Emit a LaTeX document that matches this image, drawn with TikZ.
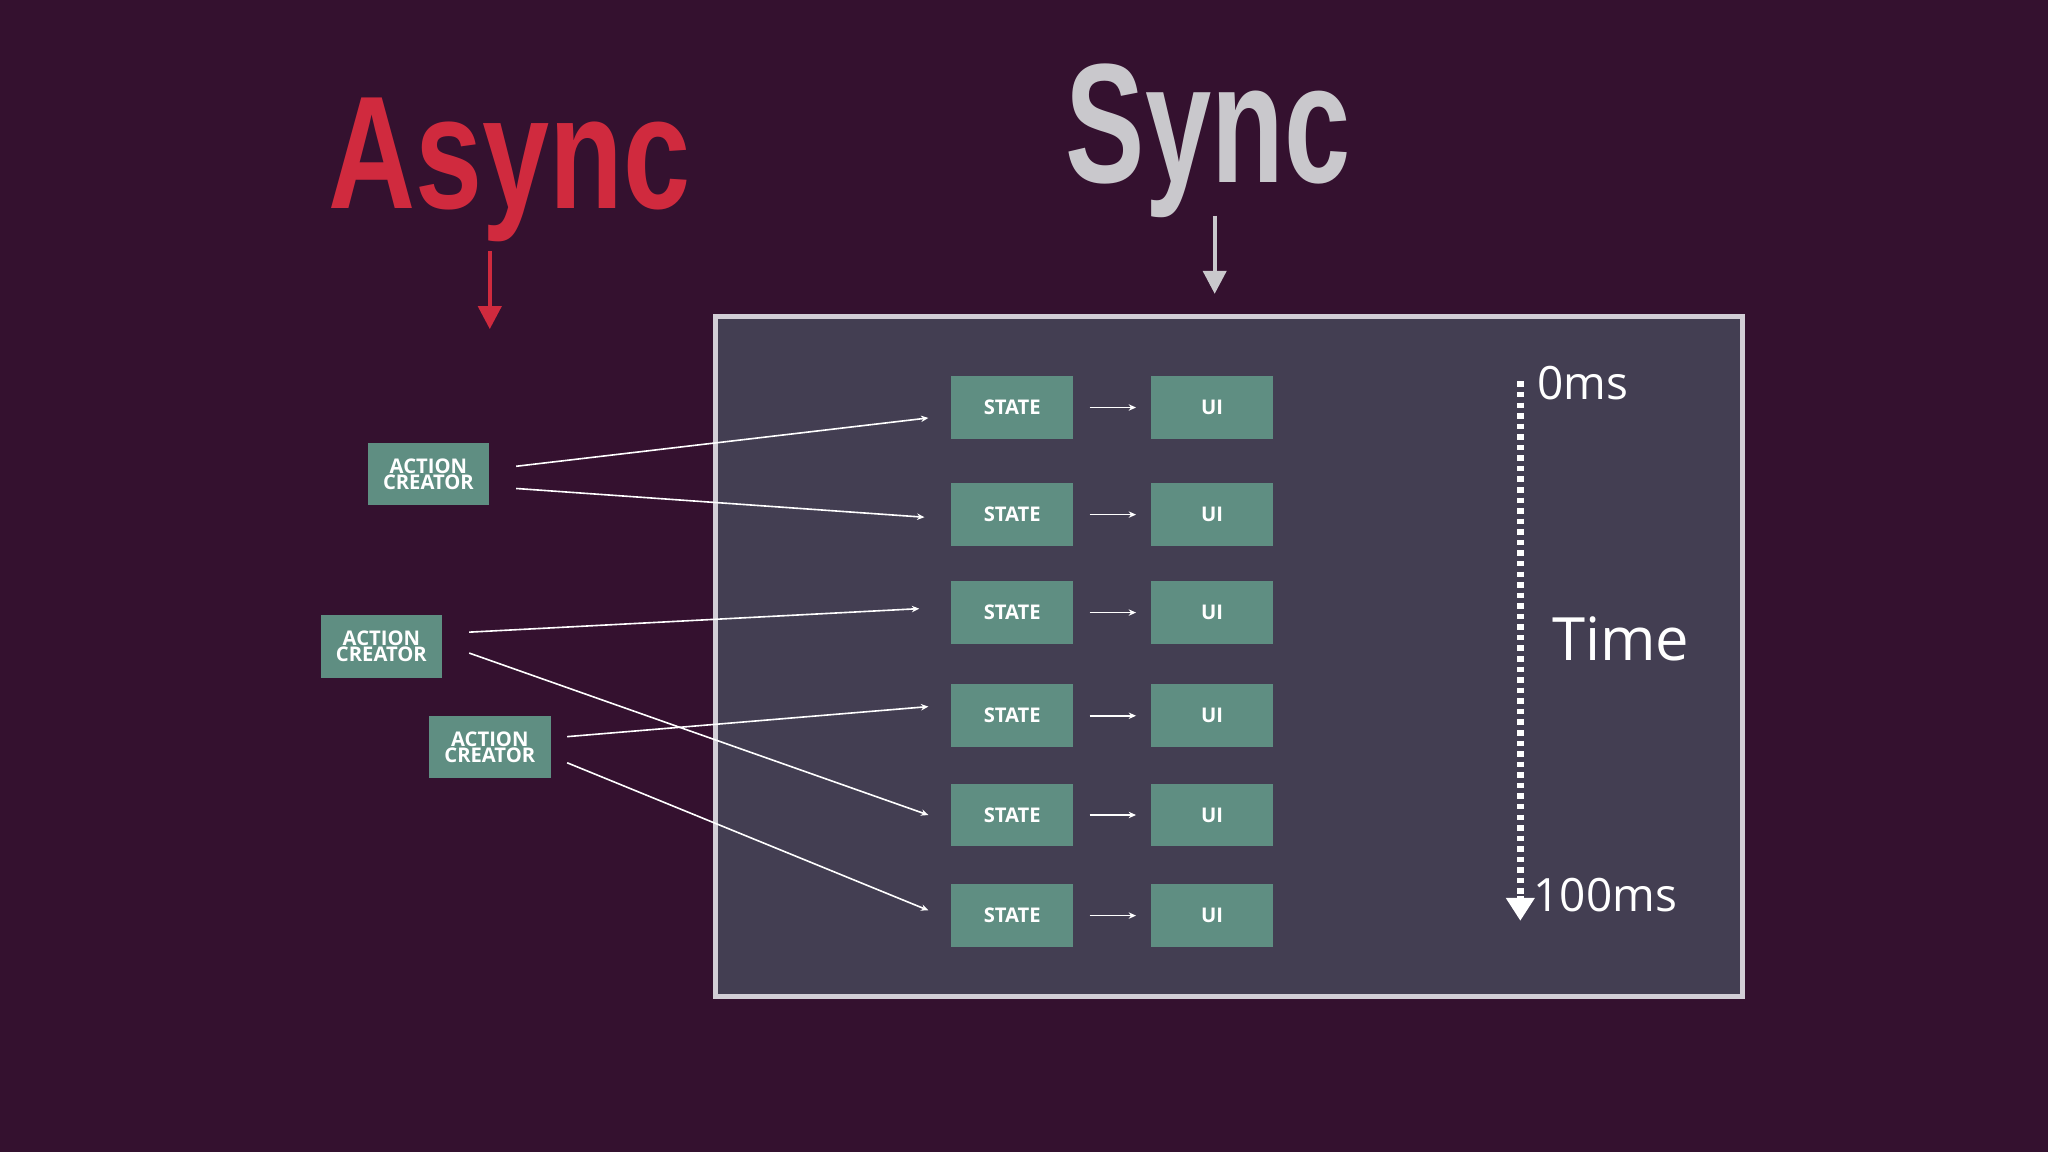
\documentclass[tikz,border=0pt]{standalone}
\usepackage{fontspec}
\setmainfont{Open Sans}
\newfontfamily\titlefont{Liberation Sans}
\usetikzlibrary{calc,arrows.meta}
\definecolor{bg}{HTML}{34112F}
\definecolor{panel}{HTML}{433E52}
\definecolor{frame}{HTML}{D2CED6}
\definecolor{teal}{HTML}{5F8E82}
\definecolor{red}{HTML}{D02A3E}
\definecolor{gray}{HTML}{C9C8CC}
\tikzset{
  box/.style={fill=teal,minimum width=0.93cm,minimum height=0.48cm,inner sep=0pt,text=white,font=\fontsize{4.4}{4.4}\selectfont\bfseries,align=center},
  ac/.style={box,font=\fontsize{4.4}{3.4}\selectfont\bfseries},
  conn/.style={draw=white,line width=0.35pt,-{Stealth[length=1.6pt,width=1.4pt]}},
}
\begin{document}
\begin{tikzpicture}[x=0.01cm,y=-0.01cm]
\fill[bg] (0,0) rectangle (1568,882);
\useasboundingbox (0,0) rectangle (1568,882);
\draw[frame,fill=panel,line width=1.1pt] (548,242) rectangle (1334,763);
\node[text=red,font=\titlefont\bfseries\fontsize{35}{35}\selectfont,xscale=0.75] (async) at (390,130) {Async};
\node[text=gray,font=\titlefont\bfseries\fontsize{37}{37}\selectfont,xscale=0.7] (sync) at (925,108) {Sync};
\coordinate (ra) at (375,192); \coordinate (rb) at (375,252);
\draw[red,line width=0.9pt,-{Triangle[length=5pt,width=5pt]}] (ra) -- (rb);
\coordinate (ga) at (930,165); \coordinate (gb) at (930,225);
\draw[gray,line width=0.9pt,-{Triangle[length=5pt,width=5pt]}] (ga) -- (gb);
\foreach \i/\y in {1/312,2/394,3/469,4/548,5/624,6/701}{
  \node[box] (s\i) at (775,\y) {STATE};
  \node[box] (u\i) at (928,\y) {UI};
  \draw[conn] ($(s\i.east)+(12,0)$) -- ($(u\i.west)+(-11,0)$);
}
\node[ac] (a1) at (328,363) {ACTION\\CREATOR};
\node[ac] (a2) at (292,495) {ACTION\\CREATOR};
\node[ac] (a3) at (375,572) {ACTION\\CREATOR};
\draw[conn] ($(a1.east)+(20,-6)$) -- ($(s1.west)+(-17,8)$);
\draw[conn] ($(a1.east)+(20,11)$) -- ($(s2.west)+(-20,2)$);
\draw[conn] ($(a2.east)+(20,-11)$) -- ($(s3.west)+(-24,-3)$);
\draw[conn] ($(a2.east)+(20,5)$) -- ($(s5.west)+(-17,0)$);
\draw[conn] ($(a3.east)+(12,-8)$) -- ($(s4.west)+(-17,-7)$);
\draw[conn] ($(a3.east)+(12,12)$) -- ($(s6.west)+(-17,-4)$);
\coordinate (t0) at (1164,292); \coordinate (t1) at (1164,705);
\draw[white,line width=1.4pt,dash pattern=on 1.2pt off 1.1pt] (t0) -- (1164,688);
\draw[white,line width=1.4pt,-{Triangle[length=5pt,width=6pt]}] (1164,686) -- (t1);
\node[text=white,font=\fontsize{10}{10}\selectfont] (l0) at (1212,293) {0ms};
\node[text=white,font=\fontsize{13}{13}\selectfont] (lt) at (1241,489) {Time};
\node[text=white,font=\fontsize{10}{10}\selectfont] (l1) at (1229,685) {100ms};
\end{tikzpicture}
\end{document}
